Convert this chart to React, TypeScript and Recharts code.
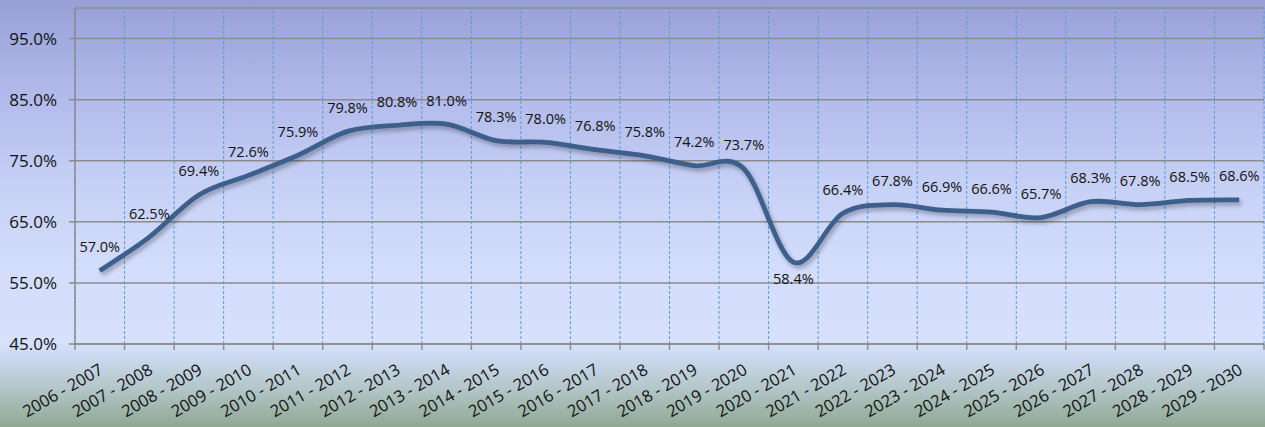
import React from "react";
import { LineChart, Line, XAxis, YAxis, CartesianGrid, ReferenceLine, LabelList } from "recharts";

const categories: string[] = [
  "2006 - 2007", "2007 - 2008", "2008 - 2009", "2009 - 2010", "2010 - 2011", "2011 - 2012",
  "2012 - 2013", "2013 - 2014", "2014 - 2015", "2015 - 2016", "2016 - 2017", "2017 - 2018",
  "2018 - 2019", "2019 - 2020", "2020 - 2021", "2021 - 2022", "2022 - 2023", "2023 - 2024",
  "2024 - 2025", "2025 - 2026", "2026 - 2027", "2027 - 2028", "2028 - 2029", "2029 - 2030",
];

const rates: number[] = [
  57.0, 62.5, 69.4, 72.6, 75.9, 79.8, 80.8, 81.0, 78.3, 78.0, 76.8, 75.8,
  74.2, 73.7, 58.4, 66.4, 67.8, 66.9, 66.6, 65.7, 68.3, 67.8, 68.5, 68.6,
];

const yTicks: number[] = [45, 55, 65, 75, 85, 95];
const labelsBelow: string[] = ["2020 - 2021"];

const data = categories.map((c, i) => ({ x: i + 0.5, cat: c, rate: rates[i] }));
const centerTicks = categories.map((_, i) => i + 0.5);
const boundaries = Array.from({ length: categories.length + 1 }, (_, i) => i);

// Excel-like smoothed line (uniform Catmull-Rom as cubic Bezier)
const smoothCurve = (context: any) => {
  let pts: [number, number][] = [];
  return {
    areaStart() {},
    areaEnd() {},
    lineStart() {
      pts = [];
    },
    lineEnd() {
      const n = pts.length;
      if (!n) return;
      context.moveTo(pts[0][0], pts[0][1]);
      for (let i = 0; i < n - 1; i++) {
        const p0 = pts[i - 1] || pts[i];
        const p1 = pts[i];
        const p2 = pts[i + 1];
        const p3 = pts[i + 2] || p2;
        context.bezierCurveTo(
          p1[0] + (p2[0] - p0[0]) / 6,
          p1[1] + (p2[1] - p0[1]) / 6,
          p2[0] - (p3[0] - p1[0]) / 6,
          p2[1] - (p3[1] - p1[1]) / 6,
          p2[0],
          p2[1]
        );
      }
    },
    point(x: number, y: number) {
      pts.push([+x, +y]);
    },
  };
};

const FONT = "'Open Sans', sans-serif";

const XTick = (props: any) => {
  const { x, y, payload } = props;
  const idx = Math.round(payload.value - 0.5);
  return (
    <text
      transform={`translate(${x + 4.5},${y + 29}) rotate(-30)`}
      textAnchor="end"
      fontSize={16.5}
      fontFamily={FONT}
      fill="#111"
    >
      {categories[idx]}
    </text>
  );
};

const YTick = (props: any) => {
  const { x, y, payload } = props;
  return (
    <text x={x} y={y} dy={6} textAnchor="end" fontSize={17} fontFamily={FONT} fill="#111">
      {`${Number(payload.value).toFixed(1)}%`}
    </text>
  );
};

const renderLabel = (props: any) => {
  const { x, y, value, index } = props;
  const below = labelsBelow.includes(categories[index]);
  return (
    <text
      x={x}
      y={below ? y + 22 : y - 18.5}
      textAnchor="middle"
      fontSize={14.5}
      fontFamily={FONT}
      fill="#111"
    >
      {Number(value).toFixed(1)}%
    </text>
  );
};

export default function App() {
  return (
    <div
      style={{
        position: "absolute",
        left: 0,
        top: 0,
        width: 1265,
        height: 427,
        background:
          "linear-gradient(to bottom, #979fd6 0%, #b1baea 22%, #c8d2f7 45%, #d4defc 65%, #d7e1fd 80%, #cbd8ee 84%, #b3c6c8 91%, #8fa893 100%)",
      }}
    >
      <LineChart
        width={1265}
        height={427}
        data={data}
        margin={{ top: 8, right: 1, left: 0, bottom: 0 }}
        style={{ fontFamily: FONT }}
      >
        <CartesianGrid vertical={false} stroke="#8c8c8c" strokeWidth={1.5} />
        {boundaries.map((b) => (
          <ReferenceLine
            key={`v${b}`}
            x={b}
            stroke="#5b9bd5"
            strokeWidth={1}
            strokeDasharray="3 2"
            ifOverflow="visible"
          />
        ))}
        {boundaries.map((b) => (
          <ReferenceLine
            key={`t${b}`}
            segment={[
              { x: b, y: 45 },
              { x: b, y: 44.05 },
            ]}
            stroke="#8c8c8c"
            strokeWidth={1.5}
            ifOverflow="visible"
          />
        ))}
        <XAxis
          type="number"
          dataKey="x"
          domain={[0, categories.length]}
          ticks={centerTicks}
          interval={0}
          height={83}
          tickLine={false}
          tickSize={0}
          tickMargin={0}
          axisLine={{ stroke: "#8c8c8c", strokeWidth: 1.5 }}
          tick={<XTick />}
          allowDataOverflow
        />
        <YAxis
          type="number"
          domain={[45, 100]}
          ticks={yTicks}
          width={75}
          tickLine={{ stroke: "#8c8c8c", strokeWidth: 1.5 }}
          tickSize={6}
          tickMargin={12}
          axisLine={{ stroke: "#8c8c8c", strokeWidth: 1.5 }}
          tick={<YTick />}
          allowDataOverflow
        />
        <Line
          dataKey="rate"
          type={smoothCurve as any}
          stroke="#3d5f8c"
          strokeWidth={4.8}
          dot={false}
          activeDot={false}
          isAnimationActive={false}
          style={{ filter: "drop-shadow(2px 3px 2px rgba(0,0,0,0.3))" }}
        >
          <LabelList dataKey="rate" content={renderLabel} />
        </Line>
      </LineChart>
    </div>
  );
}
